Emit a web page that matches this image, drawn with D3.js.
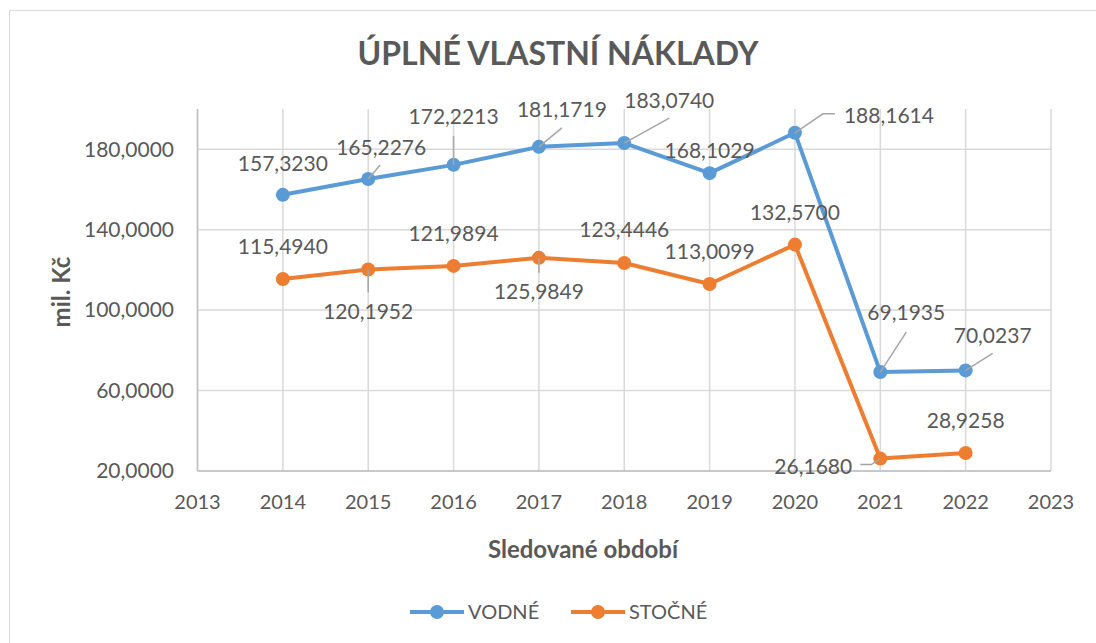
<!DOCTYPE html>
<html>
<head>
<meta charset="utf-8">
<script src="https://cdn.jsdelivr.net/npm/d3@7"></script>
<style>
  body { margin: 0; background: #fff; }
  text { font-family: Lato, "Open Sans", sans-serif; fill: #595959; }
</style>
</head>
<body>
<div id="chart"></div>
<script>
// ---- data
const years = [2014, 2015, 2016, 2017, 2018, 2019, 2020, 2021, 2022];
const vodne = [157.3230, 165.2276, 172.2213, 181.1719, 183.0740, 168.1029, 188.1614, 69.1935, 70.0237];
const stocne = [115.4940, 120.1952, 121.9894, 125.9849, 123.4446, 113.0099, 132.5700, 26.1680, 28.9258];
const yTicks = [20, 60, 100, 140, 180];
const xTicks = [2013, 2014, 2015, 2016, 2017, 2018, 2019, 2020, 2021, 2022, 2023];
const seriesNames = ['VODNÉ', 'STOČNÉ'];

// ---- label placement (offset of label centre from its point, optional leader path)
const vodneLabels = [
  { d: [0, -31] },
  { d: [13, -31], leader: [[12, -14]] },
  { d: [0, -48], leader: [[0, -29]] },
  { d: [23, -37], leader: [[23, -19]] },
  { d: [45, -42], leader: [[45, -25]] },
  { d: [0, -22] },
  { d: [94, -17], leader: [[28, -19], [40, -19]] },
  { d: [26, -59], leader: [[26, -40]] },
  { d: [27, -35], leader: [[27, -17]] }
];
const stocneLabels = [
  { d: [0, -32] },
  { d: [0, 42], leader: [[0, 23]] },
  { d: [0, -32] },
  { d: [0, 34], leader: [[0, 15]] },
  { d: [0, -33] },
  { d: [0, -32] },
  { d: [0, -32] },
  { d: [-67, 8], leader: [[-9, 6], [-20, 6]] },
  { d: [0, -32] }
];

const W = 1096, H = 643;
const BLUE = '#5B9BD5', ORANGE = '#ED7D31', GRID = '#D9D9D9';

const fmt = v => v.toFixed(4).replace('.', ',');

let svg = d3.select('#chart').append('svg')
  .attr('width', W).attr('height', H);

// outer chart frame
svg.append('rect')
  .attr('x', 9.5).attr('y', 10.5)
  .attr('width', 1100).attr('height', 660)
  .attr('fill', '#fff').attr('stroke', GRID).attr('stroke-width', 1);

let x = d3.scaleLinear().domain([2013, 2023]).range([197.5, 1051]);
let y = d3.scaleLinear().domain([20, 200]).range([471, 109]);

// grid
let grid = svg.append('g');
grid.selectAll('line.v').data(xTicks).enter().append('line')
  .attr('x1', d => x(d)).attr('x2', d => x(d))
  .attr('y1', y(200)).attr('y2', y(20))
  .attr('stroke', GRID).attr('stroke-width', 1.5);
grid.selectAll('line.h').data(yTicks).enter().append('line')
  .attr('x1', x(2013)).attr('x2', x(2023))
  .attr('y1', d => y(d)).attr('y2', d => y(d))
  .attr('stroke', GRID).attr('stroke-width', 1.5);

// axes lines
svg.append('line')
  .attr('x1', x(2013)).attr('x2', x(2013)).attr('y1', y(200)).attr('y2', y(20))
  .attr('stroke', '#BFBFBF').attr('stroke-width', 1.5);
svg.append('line')
  .attr('x1', x(2013)).attr('x2', x(2023)).attr('y1', y(20)).attr('y2', y(20))
  .attr('stroke', '#BFBFBF').attr('stroke-width', 1.5);

// tick labels
svg.append('g').selectAll('text').data(yTicks).enter().append('text')
  .attr('x', 174).attr('y', d => y(d)).attr('dy', '0.35em')
  .attr('text-anchor', 'end').attr('font-size', 21)
  .text(d => fmt(d));
svg.append('g').selectAll('text').data(xTicks).enter().append('text')
  .attr('x', d => x(d)).attr('y', 509)
  .attr('text-anchor', 'middle').attr('font-size', 20)
  .text(d => d);

// title + axis titles
svg.append('text')
  .attr('x', 558).attr('y', 65).attr('text-anchor', 'middle')
  .attr('font-size', 32).attr('font-weight', 'bold')
  .text('ÚPLNÉ VLASTNÍ NÁKLADY');
svg.append('text')
  .attr('x', 583).attr('y', 558).attr('text-anchor', 'middle')
  .attr('font-size', 24).attr('font-weight', 'bold')
  .text('Sledované období');
svg.append('text')
  .attr('transform', 'translate(70,292) rotate(-90)')
  .attr('text-anchor', 'middle')
  .attr('font-size', 24).attr('font-weight', 'bold')
  .text('mil. Kč');

// series
let series = [
  { name: seriesNames[0], values: vodne, color: BLUE, labels: vodneLabels },
  { name: seriesNames[1], values: stocne, color: ORANGE, labels: stocneLabels }
];

let line = d3.line().x(d => x(d[0])).y(d => y(d[1]));

series.forEach(function(s) {
  let pts = years.map((yr, i) => [yr, s.values[i]]);
  let g = svg.append('g');
  g.append('path')
    .attr('d', line(pts))
    .attr('fill', 'none').attr('stroke', s.color)
    .attr('stroke-width', 4).attr('stroke-linejoin', 'round');
  g.selectAll('circle').data(pts).enter().append('circle')
    .attr('cx', d => x(d[0])).attr('cy', d => y(d[1]))
    .attr('r', 7).attr('fill', s.color);
});

// data labels + leader lines
series.forEach(function(s) {
  let g = svg.append('g');
  years.forEach(function(yr, i) {
    let px = x(yr), py = y(s.values[i]);
    let lab = s.labels[i];
    if (lab.leader) {
      let path = [[px, py]].concat(lab.leader.map(p => [px + p[0], py + p[1]]));
      g.append('path')
        .attr('d', d3.line()(path))
        .attr('fill', 'none').attr('stroke', '#A6A6A6').attr('stroke-width', 1.5);
    }
    g.append('text')
      .attr('x', px + lab.d[0]).attr('y', py + lab.d[1]).attr('dy', '0.35em')
      .attr('text-anchor', 'middle').attr('font-size', 21)
      .attr('fill', '#404040')
      .text(fmt(s.values[i]));
  });
});

// legend
let legendX = [410, 571];
let legend = svg.append('g');
series.forEach(function(s, i) {
  let lx = legendX[i], ly = 612;
  legend.append('line')
    .attr('x1', lx).attr('x2', lx + 54).attr('y1', ly).attr('y2', ly)
    .attr('stroke', s.color).attr('stroke-width', 4);
  legend.append('circle')
    .attr('cx', lx + 27).attr('cy', ly).attr('r', 7).attr('fill', s.color);
  legend.append('text')
    .attr('x', lx + 58).attr('y', ly).attr('dy', '0.35em')
    .attr('font-size', 20)
    .text(s.name);
});
</script>
</body>
</html>
